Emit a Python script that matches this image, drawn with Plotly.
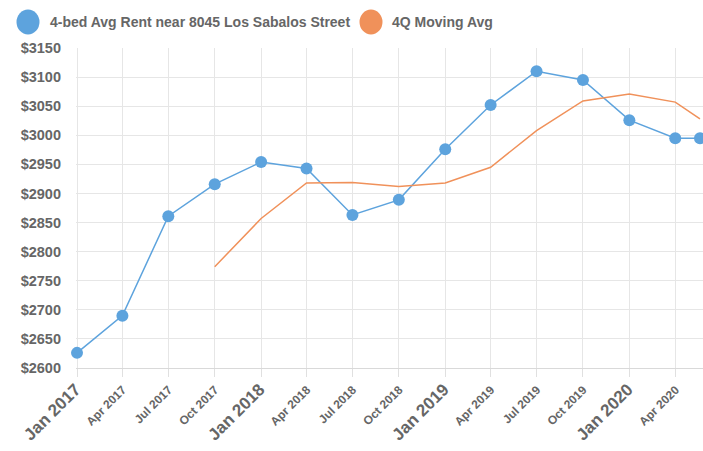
import plotly.graph_objects as go

dates = ["2017-01-01", "2017-04-01", "2017-07-01", "2017-10-01",
         "2018-01-01", "2018-04-01", "2018-07-01", "2018-10-01",
         "2019-01-01", "2019-04-01", "2019-07-01", "2019-10-01",
         "2020-01-01", "2020-04-01", "2020-05-20"]
rent = [2626, 2690, 2861, 2916, 2954, 2943, 2863, 2889,
        2976, 3052, 3110, 3095, 3026, 2995, 2995]
ma_dates = dates[3:]
moving_avg = [2774, 2857, 2918, 2919, 2912, 2918, 2945, 3008,
              3059, 3071, 3057, 3028]

tick_dates = ["2017-01-01", "2017-04-01", "2017-07-01", "2017-10-01",
              "2018-01-01", "2018-04-01", "2018-07-01", "2018-10-01",
              "2019-01-01", "2019-04-01", "2019-07-01", "2019-10-01",
              "2020-01-01", "2020-04-01"]
tick_labels = ["Jan 2017", "Apr 2017", "Jul 2017", "Oct 2017",
               "Jan 2018", "Apr 2018", "Jul 2018", "Oct 2018",
               "Jan 2019", "Apr 2019", "Jul 2019", "Oct 2019",
               "Jan 2020", "Apr 2020"]
y_ticks = list(range(2600, 3151, 50))

series_names = ["4-bed Avg Rent near 8045 Los Sabalos Street", "4Q Moving Avg"]
blue = "#5DA3DD"
orange = "#F0915A"
gray = "#666666"

def fmt_tick(lbl):
    if lbl.startswith("Jan"):
        return "<span style='font-size:17px'><b>%s</b></span>" % lbl
    return "<span style='font-size:12px'><b>%s</b></span>" % lbl

fig = go.Figure()
fig.add_trace(go.Scatter(x=dates, y=rent, mode="lines+markers",
                         line=dict(color=blue, width=1.5),
                         marker=dict(color=blue, size=12),
                         cliponaxis=False, name=series_names[0]))
fig.add_trace(go.Scatter(x=ma_dates, y=moving_avg, mode="lines",
                         line=dict(color=orange, width=1.5),
                         cliponaxis=False, name=series_names[1]))

# manual legend
legend_items = [(28, series_names[0], blue, 48), (371, series_names[1], orange, 390)]
for cx, name, col, tx in legend_items:
    fig.add_shape(type="circle", xref="paper", yref="paper",
                  xsizemode="pixel", ysizemode="pixel",
                  xanchor=(cx - 76) / 627, yanchor=1 + (48 - 22) / 320,
                  x0=-11.5, x1=11.5, y0=-12.5, y1=12.5,
                  fillcolor=col, line=dict(width=0))
    fig.add_annotation(xref="paper", yref="paper",
                       x=(tx - 76) / 627, y=1 + (48 - 22) / 320,
                       xanchor="left", yanchor="middle", showarrow=False,
                       text="<b>%s</b>" % name,
                       font=dict(family="Liberation Sans, Arial", size=14, color=gray))

fig.update_layout(
    width=703, height=451,
    margin=dict(l=76, r=0, t=48, b=83),
    plot_bgcolor="white", paper_bgcolor="white",
    showlegend=False,
    font=dict(family="Liberation Sans, Arial", color=gray),
    xaxis=dict(range=["2016-12-30", "2020-05-26"], automargin=False,
               tickmode="array", tickvals=tick_dates,
               ticktext=[fmt_tick(t) for t in tick_labels],
               tickangle=-45, showgrid=True, gridcolor="#e6e6e6",
               ticks="outside", ticklen=8, tickcolor="#e0e0e0",
               tickfont=dict(size=13, color=gray),
               showline=True, linecolor="#d9d9d9", zeroline=False),
    yaxis=dict(range=[2600, 3150], automargin=False,
               tickmode="array", tickvals=y_ticks,
               ticktext=["<b>$%d</b>" % v for v in y_ticks],
               showgrid=True, gridcolor="#e6e6e6", zeroline=False,
               tickfont=dict(size=14.5, color=gray), ticks="", ticklabelstandoff=14),
)

fig.write_html("out.html", config={"displayModeBar": False},
               post_script="document.body.style.margin='0px';")
